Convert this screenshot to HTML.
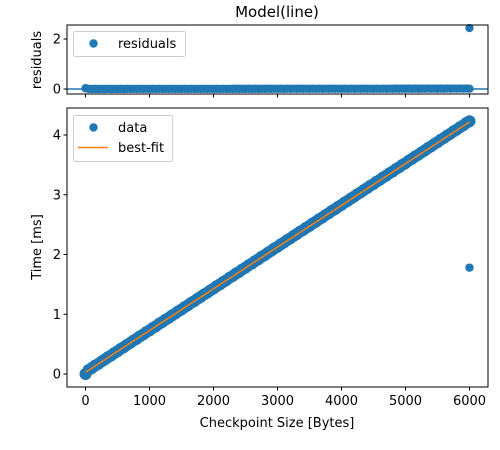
<!DOCTYPE html>
<html><head><meta charset="utf-8"><style>
body{margin:0;background:#fff}
svg{display:block;font-family:"DejaVu Sans","Liberation Sans",sans-serif}
</style></head><body>
<svg id="c" width="500" height="450"></svg>
<script>
const xTicks=[0,1000,2000,3000,4000,5000,6000];
const yTicksMain=[0,1,2,3,4];
const yTicksRes=[0,2];
const ys=[0.00,0.07,0.10,0.14,0.17,0.21,0.24,0.28,0.31,0.35,0.38,0.42,0.45,0.49,0.52,0.56,0.59,0.63,0.66,0.70,
0.73,0.77,0.80,0.84,0.87,0.91,0.94,0.98,1.01,1.05,1.08,1.12,1.15,1.19,1.22,1.26,1.29,1.33,1.36,1.40,
1.43,1.47,1.50,1.54,1.57,1.61,1.64,1.68,1.71,1.75,1.78,1.82,1.85,1.89,1.92,1.96,1.99,2.03,2.06,2.10,
2.13,2.17,2.20,2.24,2.27,2.31,2.34,2.38,2.41,2.45,2.48,2.52,2.55,2.59,2.62,2.66,2.69,2.73,2.76,2.80,
2.83,2.87,2.90,2.94,2.97,3.01,3.04,3.08,3.11,3.15,3.18,3.22,3.25,3.29,3.32,3.36,3.39,3.43,3.46,3.50,
3.53,3.57,3.60,3.64,3.67,3.71,3.74,3.78,3.81,3.85,3.88,3.92,3.95,3.99,4.02,4.06,4.09,4.13,4.16,4.20,4.23];
const xStep=50;
const outX=[6000];
const outY=[1.78];
const fitA=0.03, fitB=0.000698;

const svg=document.getElementById('c');
const NS='http://www.w3.org/2000/svg';
function el(t,a,p){const e=document.createElementNS(NS,t);for(const k in a)e.setAttribute(k,a[k]);(p||svg).appendChild(e);return e;}
const L=67,R=488;
const X=v=>85.5+v*0.064;
const Ym=v=>374-v*59.75;
const Yr=v=>89-v*25;
const fit=x=>fitA+fitB*x;

// top axes
const gTop=el('g',{});


el('line',{x1:L,x2:R,y1:Yr(0),y2:Yr(0),stroke:'#1f77b4','stroke-width':1.5},gTop);
ys.forEach((y,i)=>{const x=i*xStep;const c=el('circle',{cx:X(x),cy:Yr(Math.abs(y-fit(x))),r:4.2,fill:'#1f77b4'},gTop);

});
outX.forEach((x,i)=>{const c=el('circle',{cx:X(x),cy:Yr(Math.abs(outY[i]-fit(x))),r:4.2,fill:'#1f77b4'},gTop);

});
el('rect',{x:L,y:25,width:R-L,height:69,fill:'none',stroke:'#000','stroke-width':1},gTop);
xTicks.forEach(t=>el('line',{x1:X(t),x2:X(t),y1:94,y2:97.5,stroke:'#000'},gTop));
yTicksRes.forEach(t=>{el('line',{x1:L-3.5,x2:L,y1:Yr(t),y2:Yr(t),stroke:'#000'},gTop);
const tx=el('text',{x:L-6,y:Yr(t)+4.5,'text-anchor':'end','font-size':13},gTop);tx.textContent=t;});
const rl=el('text',{transform:'translate(41,60) rotate(-90)','text-anchor':'middle','font-size':13},gTop);rl.textContent='residuals';

const tt=el('text',{x:277,y:17,'text-anchor':'middle','font-size':15},gTop);tt.textContent='Model(line)';

const lg1=el('g',{},gTop);
el('rect',{x:73.5,y:31.5,width:112,height:25,rx:2,fill:'#fff','fill-opacity':0.8,stroke:'#ccc'},lg1);
el('circle',{cx:93.5,cy:43.5,r:4.2,fill:'#1f77b4'},lg1);
const lt=el('text',{x:118,y:48,'font-size':13},lg1);lt.textContent='residuals';

// main axes
const gM=el('g',{});


ys.forEach((y,i)=>{const c=el('circle',{cx:X(i*xStep),cy:Ym(y),r:6,fill:'#1f77b4'},gM);

});
outX.forEach((x,i)=>{const c=el('circle',{cx:X(x),cy:Ym(outY[i]),r:4.2,fill:'#1f77b4'},gM);

});
const fl=el('line',{x1:X(0),y1:Ym(fit(0)),x2:X(6000),y2:Ym(fit(6000)),stroke:'#ff7f0e','stroke-width':1.5},gM);

el('rect',{x:L,y:108,width:R-L,height:279,fill:'none',stroke:'#000','stroke-width':1},gM);
xTicks.forEach(t=>{el('line',{x1:X(t),x2:X(t),y1:387,y2:390.5,stroke:'#000'},gM);
const tx=el('text',{x:X(t),y:405,'text-anchor':'middle','font-size':13},gM);tx.textContent=t;});
yTicksMain.forEach(t=>{el('line',{x1:L-3.5,x2:L,y1:Ym(t),y2:Ym(t),stroke:'#000'},gM);
const tx=el('text',{x:L-6,y:Ym(t)+4.5,'text-anchor':'end','font-size':13},gM);tx.textContent=t;});
const yl=el('text',{transform:'translate(41,247) rotate(-90)','text-anchor':'middle','font-size':13},gM);yl.textContent='Time [ms]';

const xl=el('text',{x:277,y:427,'text-anchor':'middle','font-size':13},gM);xl.textContent='Checkpoint Size [Bytes]';

const lg2=el('g',{},gM);
el('rect',{x:73.5,y:115.5,width:99,height:46,rx:2,fill:'#fff','fill-opacity':0.8,stroke:'#ccc'},lg2);
el('circle',{cx:93.5,cy:127.5,r:4.2,fill:'#1f77b4'},lg2);
const d1=el('text',{x:118,y:132,'font-size':13},lg2);d1.textContent='data';
el('line',{x1:78,x2:108,y1:147.5,y2:147.5,stroke:'#ff7f0e','stroke-width':1.5},lg2);
const d2=el('text',{x:118,y:152,'font-size':13},lg2);d2.textContent='best-fit';
</script>
</body></html>
